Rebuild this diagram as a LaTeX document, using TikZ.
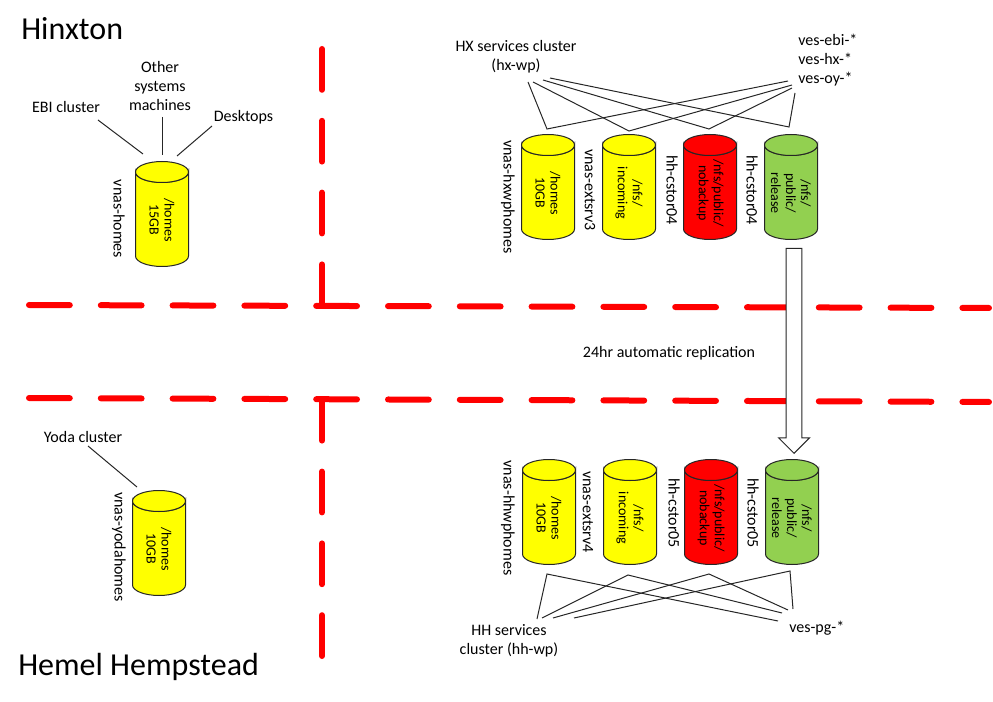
\documentclass[tikz,border=0pt]{standalone}
\usepackage{fontspec}
\setmainfont{Carlito}
\usetikzlibrary{shapes.arrows}
\definecolor{DiskYellow}{HTML}{ffff00}
\definecolor{DiskRed}{HTML}{ff0000}
\definecolor{DiskGreen}{HTML}{92d050}
\definecolor{SiteRed}{HTML}{ff0000}
\tikzset{
  disk/.style={draw=black!85,line width=.75pt},
  disktext/.style={rotate=-90,inner sep=0pt,align=center,font=\fontsize{10.5}{11.25}\selectfont},
  hostlabel/.style={rotate=-90,inner sep=0pt,font=\fontsize{12}{14}\selectfont},
  textlabel/.style={inner sep=0pt,align=center,font=\fontsize{12}{14.25}\selectfont},
  sitelabel/.style={inner sep=0pt,anchor=west,font=\fontsize{24}{28}\selectfont},
  sitedash/.style={draw=SiteRed,line width=4.5pt,line cap=round,dash pattern=on 30.6pt off 23.25pt},
  link/.style={draw=black!85,line width=.75pt},
  replication/.style={single arrow,draw=black!85,fill=white,line width=.75pt,rotate=-90,anchor=tip,
    minimum height=153.75pt,single arrow head extend=5.6pt,inner ysep=5.6pt,inner xsep=0pt}
}
\begin{document}
\begin{tikzpicture}[x=0.75pt,y=-0.75pt]
   \useasboundingbox (0,0) rectangle (993,702);

   % site borders
   \foreach \name/\xa/\ya/\xb/\yb in {upperH/29/305/989/308,lowerH/29/398/989/402,upperV/322/49/322/305,lowerV/322/656/322/400} {
    \coordinate (\name a) at (\xa,\ya);
    \coordinate (\name b) at (\xb,\yb);
    \draw[sitedash] (\name a) -- (\name b);
   }

   % disks
   \foreach \x/\y/\col/\name/\txt in {
     162/214/DiskYellow/homesA/{/homes\\15GB},
     159/543/DiskYellow/homesB/{/homes\\10GB},
     548/187/DiskYellow/hxA/{/homes\\10GB},
     629/187/DiskYellow/hxB/{/nfs/\\incoming},
     710/187/DiskRed/hxC/{/nfs/public/\\nobackup},
     791/187/DiskGreen/hxD/{/nfs/\\public/\\release},
     549/512/DiskYellow/hhA/{/homes\\10GB},
     630/512/DiskYellow/hhB/{/nfs/\\incoming},
     711/512/DiskRed/hhC/{/nfs/public/\\nobackup},
     792/512/DiskGreen/hhD/{/nfs/\\public/\\release}} {
    \draw[disk,fill=\col] (\x-26.5,\y-42) -- (\x-26.5,\y+42)
      arc[start angle=180,end angle=0,x radius=26.5,y radius=10.5] -- (\x+26.5,\y-42)
      arc[start angle=0,end angle=180,x radius=26.5,y radius=10.5] -- cycle;
    \draw[disk,fill=\col] (\x,\y-42) ellipse[x radius=26.5,y radius=10.5];
    \node[disktext] (\name) at (\x,\y+6) {\txt};
   }

   % names of the disks
   \foreach \x/\y/\name/\txt in {
     119/219/homesAname/vnas-homes,
     119/547/homesBname/vnas-yodahomes,
     508/197/hxAname/vnas-hxwphomes,
     590/190/hxBname/vnas-extsrv3,
     672/190/hxCname/hh-cstor04,
     752/190/hxDname/hh-cstor04,
     508/518/hhAname/vnas-hhwphomes,
     588/512/hhBname/vnas-extsrv4,
     674/513/hhCname/hh-cstor05,
     753/513/hhDname/hh-cstor05} {
    \node[hostlabel] (\name) at (\x,\y) {\txt};
   }

   % clients
   \node[sitelabel] (hinxton) at (21,29) {Hinxton};
   \node[sitelabel] (hemel) at (18,667) {Hemel Hempstead};
   \node[textlabel] (ebi) at (66,107) {EBI cluster};
   \node[textlabel] (other) at (160,86) {Other\\systems\\machines};
   \node[textlabel] (desktops) at (243.5,117) {Desktops};
   \node[textlabel] (yoda) at (83,437) {Yoda cluster};
   \node[textlabel] (hxwp) at (516,57) {HX services cluster\\(hx-wp)};
   \node[textlabel,align=left,anchor=west] (vesup) at (798,60) {ves-ebi-*\\ves-hx-*\\ves-oy-*};
   \node[textlabel] (hhwp) at (509,641) {HH services\\cluster (hh-wp)};
   \node[textlabel,anchor=west] (vespg) at (789,628) {ves-pg-*};
   \node[textlabel] (repl) at (669,353) {24hr automatic replication};

   % links of the home disks
   \foreach \name/\xa/\ya/\xb/\yb in {ebi/98/120/143/154,other/162/117/162/155,desk/212/126/177/156,yoda/88/446/137/487} {
    \coordinate (\name S) at (\xa,\ya);
    \coordinate (\name T) at (\xb,\yb);
    \draw[link] (\name S) -- (\name T);
   }

   % links of the service disks
   \foreach \name/\xa/\ya/\xb/\yb/\xc/\yc in {
     hxLa/528/82/547/129/788/81,
     hxLb/533/82/629/131/792/85,
     hxLc/543/80/709/129/792/88,
     hxLd/550/78/789/127/795/93,
     hhLa/537/619/547/574/778/621,
     hhLb/542/618/628/575/782/613,
     hhLc/553/618/709/574/788/610,
     hhLd/574/618/790/571/793/609} {
    \coordinate (\name a) at (\xa,\ya);
    \coordinate (\name b) at (\xb,\yb);
    \coordinate (\name c) at (\xc,\yc);
    \draw[link] (\name a) -- (\name b) -- (\name c);
   }

   \node[replication] (replArrow) at (794,454) {};
\end{tikzpicture}
\end{document}
